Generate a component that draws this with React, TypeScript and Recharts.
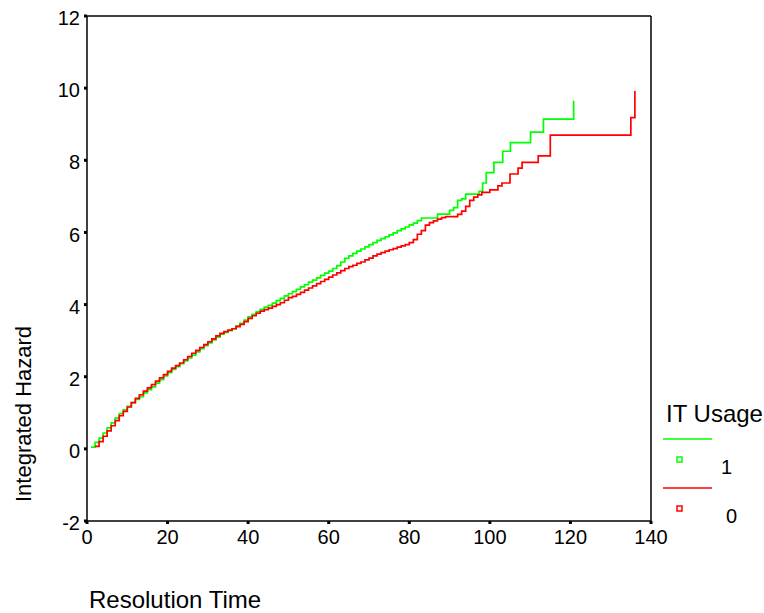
import { LineChart, Line, XAxis, YAxis, ReferenceLine } from "recharts"

// IT Usage = 1 (green)
const greenTimes = [
  1, 2, 3, 4, 5, 6, 7, 8, 9, 10, 11, 12, 13, 14, 15, 16, 17, 18, 19, 20,
  21, 22, 23, 24, 25, 26, 27, 28, 29, 30, 31, 32, 33, 34, 35, 36, 37, 38, 39, 40,
  41, 42, 43, 44, 45, 46, 47, 48, 49, 50, 51, 52, 53, 54, 55, 56, 57, 58, 59, 60,
  61, 62, 63, 64, 65, 66, 67, 68, 69, 70, 71, 72, 73, 74, 75, 76, 77, 78, 79, 80,
  81, 82, 83, 87, 90, 91, 92, 93, 94, 97.3, 98.2, 99.1, 101, 103.2, 105.1, 110.1, 113.3, 120.8,
]
const greenHazard = [
  0.05, 0.18, 0.3, 0.44, 0.58, 0.72, 0.85, 0.98, 1.08, 1.18, 1.28, 1.37, 1.45, 1.55, 1.64, 1.72, 1.82, 1.92, 2.02, 2.11,
  2.2, 2.28, 2.36, 2.44, 2.52, 2.6, 2.69, 2.78, 2.86, 2.94, 3.02, 3.1, 3.18, 3.23, 3.28, 3.33, 3.41, 3.48, 3.57, 3.66,
  3.73, 3.8, 3.87, 3.93, 3.98, 4.04, 4.11, 4.17, 4.24, 4.3, 4.36, 4.42, 4.49, 4.55, 4.62, 4.68, 4.74, 4.81, 4.87, 4.93,
  5.0, 5.08, 5.18, 5.28, 5.35, 5.42, 5.48, 5.54, 5.6, 5.66, 5.72, 5.78, 5.83, 5.88, 5.93, 5.99, 6.05, 6.1, 6.15, 6.21,
  6.26, 6.33, 6.4, 6.51, 6.61, 6.69, 6.89, 6.93, 7.06, 7.14, 7.37, 7.66, 7.94, 8.25, 8.49, 8.78, 9.14, 9.65,
]

// IT Usage = 0 (red)
const redTimes = [
  2, 3, 4, 5, 6, 7, 8, 9, 10, 11, 12, 13, 14, 15, 16, 17, 18, 19, 20,
  21, 22, 23, 24, 25, 26, 27, 28, 29, 30, 31, 32, 33, 34, 35, 36, 37, 38, 39, 40,
  41, 42, 43, 44, 45, 46, 47, 48, 49, 50, 51, 52, 53, 54, 55, 56, 57, 58, 59, 60,
  61, 62, 63, 64, 65, 66, 67, 68, 69, 70, 71, 72, 73, 74, 75, 76, 77, 78, 79, 80,
  81, 82, 83, 84, 85, 86, 87, 88, 89, 92, 93, 94, 95, 96, 97, 98, 100, 102, 103, 105,
  107, 108, 112, 115, 135, 136,
]
const redHazard = [
  0.07, 0.2, 0.35, 0.5, 0.64, 0.78, 0.92, 1.04, 1.16, 1.28, 1.4, 1.5, 1.6, 1.69, 1.78, 1.88, 1.97, 2.06, 2.15,
  2.24, 2.31, 2.38, 2.47, 2.56, 2.65, 2.73, 2.81, 2.89, 2.97, 3.05, 3.13, 3.2, 3.25, 3.29, 3.33, 3.39, 3.45, 3.53, 3.62,
  3.69, 3.76, 3.82, 3.86, 3.9, 3.95, 4.0, 4.05, 4.12, 4.19, 4.23, 4.28, 4.34, 4.4, 4.46, 4.52, 4.58, 4.64, 4.7, 4.76,
  4.82, 4.88, 4.94, 5.0, 5.05, 5.09, 5.14, 5.18, 5.24, 5.29, 5.35, 5.4, 5.44, 5.48, 5.52, 5.55, 5.59, 5.63, 5.66, 5.72,
  5.8, 5.95, 6.05, 6.2, 6.27, 6.32, 6.37, 6.41, 6.44, 6.5, 6.59, 6.72, 6.89, 6.98, 7.04, 7.11, 7.18, 7.29, 7.37, 7.62,
  7.78, 7.94, 8.12, 8.7, 9.18, 9.92,
]

const xTicks = [0, 20, 40, 60, 80, 100, 120, 140]
const yTicks = [-2, 0, 2, 4, 6, 8, 10, 12]

const font = "'Liberation Sans', Arial, Helvetica, sans-serif"

const series = [
  { name: "1", color: "#00ff00", data: greenTimes.map((t, i) => ({ t, h: greenHazard[i] })) },
  { name: "0", color: "#ff0000", data: redTimes.map((t, i) => ({ t, h: redHazard[i] })) },
]

function LegendBox() {
  return (
    <svg width={109} height={135} style={{ position: "absolute", left: 655, top: 395 }}>
      <text x={11} y={27} fontSize={24} fontFamily={font} fill="#000">
        IT Usage
      </text>
      {series.map((s, i) => {
        const top = 44 + i * 49
        return (
          <g key={s.name}>
            <line x1={8} x2={57} y1={top} y2={top} stroke={s.color} strokeWidth={1.5} />
            <rect x={22} y={top + 18} width={5} height={5} fill="none" stroke={s.color} strokeWidth={1.5} />
            <text x={66 + i * 5} y={top + 35} fontSize={20} fontFamily={font} fill="#000">
              {s.name}
            </text>
          </g>
        )
      })}
    </svg>
  )
}

export default function App() {
  return (
    <div style={{ position: "absolute", left: 0, top: 0, width: 764, height: 613, background: "#fff" }}>
      <LineChart width={764} height={613} margin={{ top: 16, right: 113, bottom: 52, left: 0 }}>
        <XAxis
          dataKey="t"
          type="number"
          domain={[0, 140]}
          ticks={xTicks}
          allowDataOverflow
          height={40}
          axisLine={{ stroke: "#000", strokeWidth: 1.5 }}
          tickLine={{ stroke: "#000", strokeWidth: 3 }}
          tickSize={3}
          tickMargin={6}
          tick={{ fill: "#000", fontSize: 20, fontFamily: font }}
        />
        <YAxis
          type="number"
          domain={[-2, 12]}
          ticks={yTicks}
          allowDataOverflow
          width={87}
          axisLine={{ stroke: "#000", strokeWidth: 1.5 }}
          tickLine={{ stroke: "#000", strokeWidth: 3 }}
          tickSize={3}
          tickMargin={4}
          tick={{ fill: "#000", fontSize: 20, fontFamily: font, dy: 2 }}
        />
        <ReferenceLine x={140} stroke="#000" strokeWidth={1.5} />
        <ReferenceLine y={12} stroke="#000" strokeWidth={1.5} />
        {series.map((s) => (
          <Line
            key={s.name}
            data={s.data}
            dataKey="h"
            name={s.name}
            type="stepAfter"
            stroke={s.color}
            strokeWidth={1.7}
            dot={false}
            isAnimationActive={false}
          />
        ))}
      </LineChart>
      <LegendBox />
      <div
        style={{
          position: "absolute",
          left: 89,
          top: 586,
          fontSize: 24,
          fontFamily: font,
          lineHeight: "28px",
          whiteSpace: "nowrap",
        }}
      >
        Resolution Time
      </div>
      <div
        style={{
          position: "absolute",
          left: 24,
          top: 414,
          fontSize: 22,
          fontFamily: font,
          lineHeight: "26px",
          whiteSpace: "nowrap",
          transform: "translate(-50%, -50%) rotate(-90deg)",
        }}
      >
        Integrated Hazard
      </div>
    </div>
  )
}
